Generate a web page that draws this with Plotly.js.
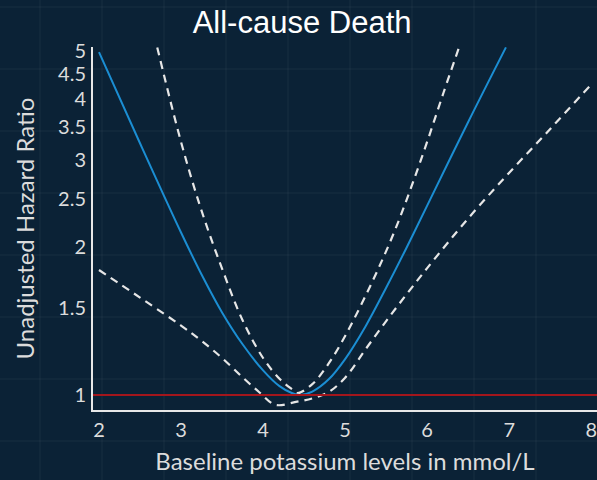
<!DOCTYPE html>
<html>
<head>
<meta charset="utf-8">
<script src="https://cdn.plot.ly/plotly-3.0.1.min.js"></script>
<style>html,body{margin:0;padding:0;background:#0b2236;}#chart{width:597px;height:480px;}</style>
</head>
<body>
<div id="chart"></div>
<script>
// Hazard ratio estimate (solid blue)
const hrX = [2.0, 2.5, 3.0, 3.25, 3.5, 3.75, 4.0, 4.2, 4.35, 4.45, 4.6, 4.8, 5.0, 5.25, 5.5, 5.75, 6.0, 6.5, 6.96];
const hrY = [4.98, 3.25, 2.14, 1.758, 1.472, 1.268, 1.122, 1.042, 1.009, 1.0, 1.016, 1.076, 1.183, 1.38, 1.652, 1.995, 2.427, 3.589, 5.09];
// Upper confidence limit (dashed)
const upX = [2.71, 3.0, 3.25, 3.5, 3.75, 4.0, 4.2, 4.35, 4.42, 4.6, 4.8, 5.0, 5.2, 5.4, 5.6, 5.8, 6.0, 6.2, 6.39];
const upY = [5.09, 3.27, 2.37, 1.807, 1.419, 1.189, 1.079, 1.028, 1.009, 1.052, 1.159, 1.318, 1.531, 1.799, 2.148, 2.63, 3.273, 4.121, 5.1];
// Lower confidence limit (dashed)
const loX = [2.0, 2.5, 3.0, 3.25, 3.5, 3.75, 3.95, 4.15, 4.4, 4.6, 4.8, 5.0, 5.25, 5.5, 5.75, 6.0, 6.5, 7.0, 7.5, 7.98];
const loY = [1.795, 1.578, 1.384, 1.288, 1.189, 1.086, 1.014, 0.955, 0.968, 0.984, 1.014, 1.084, 1.239, 1.413, 1.603, 1.811, 2.286, 2.831, 3.475, 4.246];
// Reference line
const refY = 1;
// Axis ticks
const xTicks = [2, 3, 4, 5, 6, 7, 8];
const yTicks = [1, 1.5, 2, 2.5, 3, 3.5, 4, 4.5, 5];
const yTickText = ['1', '1.5', '2', '2.5', '3', '3.5', '4', '4.5', '5'];

const W = 597, H = 480, ML = 93, MR = 0, MT = 47, MB = 70;
const pw = W - ML - MR, ph = H - MT - MB;

// decorative background grid
const shapes = [];
const gridCol = 'rgba(255,255,255,0.055)';
for (let px = 40; px < W; px += 62) {
  shapes.push({type:'line', xref:'paper', yref:'paper', layer:'below',
    x0:(px-ML)/pw, x1:(px-ML)/pw, y0:-MB/ph, y1:(H-MB)/ph,
    line:{color:gridCol, width:1}});
}
for (let py = 7; py < H; py += 62) {
  shapes.push({type:'line', xref:'paper', yref:'paper', layer:'below',
    x0:-ML/pw, x1:(W-ML)/pw, y0:(H-MB-py)/ph, y1:(H-MB-py)/ph,
    line:{color:gridCol, width:1}});
}
shapes.push({type:'line', xref:'paper', yref:'y', x0:0, x1:1, y0:refY, y1:refY,
  line:{color:'#a3161c', width:2}});

const dashStyle = {color:'#e6e6e6', width:2.2, dash:'8px,6px', shape:'spline', smoothing:1};
const traces = [
  {x: loX, y: loY, mode:'lines', line: dashStyle, hoverinfo:'skip'},
  {x: upX, y: upY, mode:'lines', line: dashStyle, hoverinfo:'skip'},
  {x: hrX, y: hrY, mode:'lines', line:{color:'#1b8ed3', width:2, shape:'spline', smoothing:1}, hoverinfo:'skip'}
];

const fam = 'Lato, "Open Sans", sans-serif';
const tickFont = {family: fam, size: 20, color:'#dcdcdc'};
const layout = {
  width: W, height: H,
  margin: {l: ML, r: MR, t: MT, b: MB, pad: 0},
  paper_bgcolor: '#0b2236',
  plot_bgcolor: 'rgba(0,0,0,0)',
  showlegend: false,
  title: {text: 'All-cause Death', x: 0.506, xref: 'container', y: 0.953, yref:'container', yanchor:'middle',
    font: {family: '"Liberation Sans", Arial, sans-serif', size: 31, color: '#ffffff'}},
  xaxis: {range: [1.927, 8.07], tickvals: xTicks, ticktext: xTicks.map(String), showgrid: false, zeroline: false,
    showline: true, linecolor: '#e8e8e8', linewidth: 2, ticks: '', tickfont: tickFont, ticklabelstandoff: 1,
    ticklabeloverflow: 'allow',
    title: {text: 'Baseline potassium levels in mmol/L', standoff: 13,
      font: {family: fam, size: 24, color: '#dcdcdc'}}},
  yaxis: {type: 'log', range: [Math.log10(0.932), Math.log10(5.1)], tickvals: yTicks, ticktext: yTickText,
    showgrid: false, zeroline: false, showline: true, linecolor: '#e8e8e8', linewidth: 2, ticks: '',
    tickfont: tickFont, ticklabelstandoff: 1,
    title: {text: 'Unadjusted Hazard Ratio', standoff: 17,
      font: {family: fam, size: 24, color: '#dcdcdc'}}},
  shapes: shapes
};
Plotly.newPlot('chart', traces, layout, {displayModeBar: false, staticPlot: true});
</script>
</body>
</html>
